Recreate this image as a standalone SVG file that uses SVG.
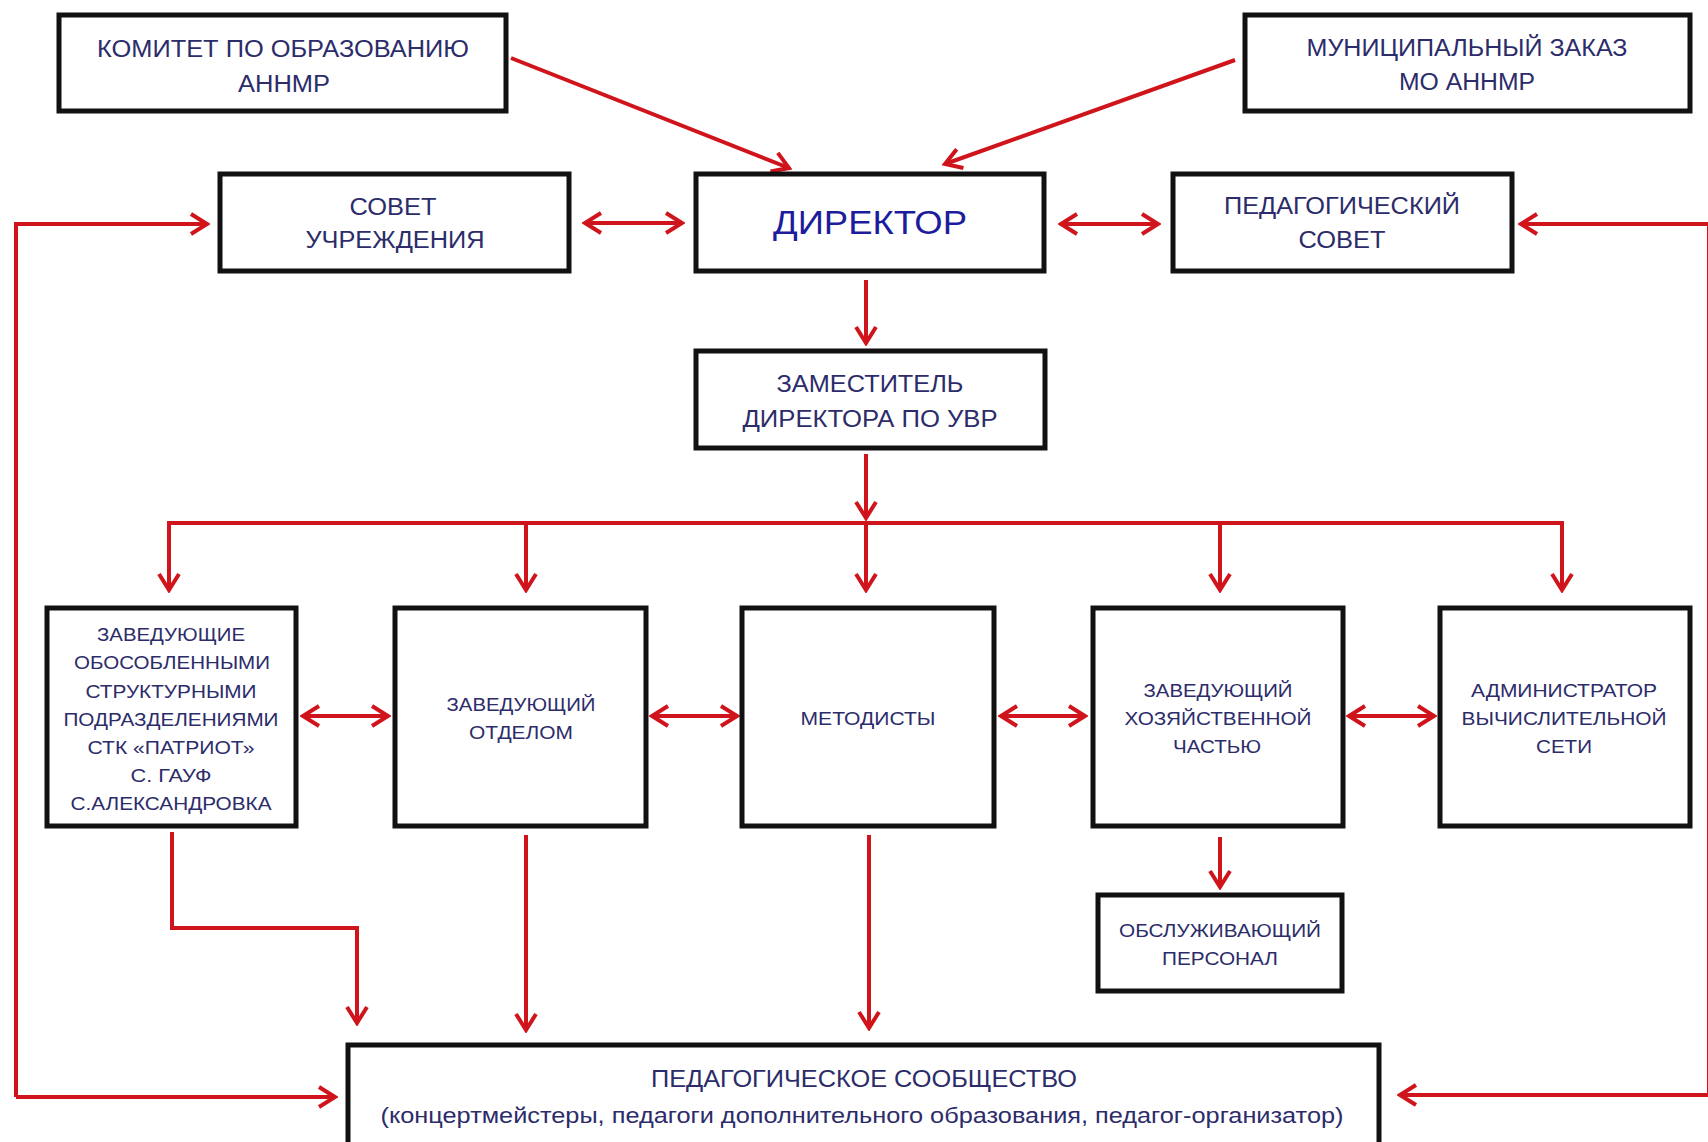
<svg xmlns="http://www.w3.org/2000/svg" width="1708" height="1142" viewBox="0 0 1708 1142">
<style>
.box{fill:#fff;stroke:#111;stroke-width:5}
.t{font-family:"Liberation Sans",Arial,sans-serif;fill:#2c2c6a;text-anchor:middle}
.t23{font-size:23px}
.t19{font-size:19px}
.dir{font-size:34px;fill:#1c1c9c}
.ln{fill:none;stroke:#d0141c;stroke-width:4;stroke-linejoin:miter}
</style>
<defs>
<marker id="ah" viewBox="0 0 22 24" refX="19" refY="12" markerWidth="22" markerHeight="24" markerUnits="userSpaceOnUse" orient="auto-start-reverse">
<path d="M3,2 L19,12 L3,22" fill="none" stroke="#d0141c" stroke-width="4"/>
</marker>
</defs>
<rect width="1708" height="1142" fill="#fff"/>

<g id="connectors">
<path class="ln" d="M511,58 L789,168" marker-end="url(#ah)"/>
<path class="ln" d="M1235,60 L945,164" marker-end="url(#ah)"/>
<path class="ln" d="M585,223 L682,223" marker-start="url(#ah)" marker-end="url(#ah)"/>
<path class="ln" d="M1061,224 L1158,224" marker-start="url(#ah)" marker-end="url(#ah)"/>
<path class="ln" d="M16,1097 L16,224 L207,224" marker-end="url(#ah)"/>
<path class="ln" d="M16,1097 L335,1097" marker-end="url(#ah)"/>
<path class="ln" d="M1709,224 L1709,1095"/>
<path class="ln" d="M1709,224 L1521,224" marker-end="url(#ah)"/>
<path class="ln" d="M1709,1095 L1400,1095" marker-end="url(#ah)"/>
<path class="ln" d="M866,280 L866,343" marker-end="url(#ah)"/>
<path class="ln" d="M866,454 L866,518" marker-end="url(#ah)"/>
<path class="ln" d="M169,590 L169,523 L1562,523 L1562,590" marker-end="url(#ah)"/>
<path class="ln" d="M169,523 L169,590" marker-end="url(#ah)"/>
<path class="ln" d="M526,523 L526,590" marker-end="url(#ah)"/>
<path class="ln" d="M866,523 L866,590" marker-end="url(#ah)"/>
<path class="ln" d="M1220,523 L1220,590" marker-end="url(#ah)"/>
<path class="ln" d="M303,716 L388,716" marker-start="url(#ah)" marker-end="url(#ah)"/>
<path class="ln" d="M652,716 L737,716" marker-start="url(#ah)" marker-end="url(#ah)"/>
<path class="ln" d="M1001,716 L1085,716" marker-start="url(#ah)" marker-end="url(#ah)"/>
<path class="ln" d="M1349,716 L1434,716" marker-start="url(#ah)" marker-end="url(#ah)"/>
<path class="ln" d="M172,832 L172,928 L357,928 L357,1023" marker-end="url(#ah)"/>
<path class="ln" d="M526,835 L526,1030" marker-end="url(#ah)"/>
<path class="ln" d="M869,835 L869,1028" marker-end="url(#ah)"/>
<path class="ln" d="M1220,837 L1220,887" marker-end="url(#ah)"/>
</g>

<g id="komitet">
<rect class="box" x="59" y="15" width="447" height="96"/>
<text class="t t23" x="283" y="57" textLength="372" lengthAdjust="spacingAndGlyphs">КОМИТЕТ ПО ОБРАЗОВАНИЮ</text>
<text class="t t23" x="284" y="92" textLength="92" lengthAdjust="spacingAndGlyphs">АННМР</text>
</g>

<g id="municipal">
<rect class="box" x="1245" y="15" width="445" height="96"/>
<text class="t t23" x="1467" y="56" textLength="321" lengthAdjust="spacingAndGlyphs">МУНИЦИПАЛЬНЫЙ ЗАКАЗ</text>
<text class="t t23" x="1467" y="90" textLength="136" lengthAdjust="spacingAndGlyphs">МО АННМР</text>
</g>

<g id="sovet-uchrezhdeniya">
<rect class="box" x="220" y="174" width="349" height="97"/>
<text class="t t23" x="393" y="215" textLength="87" lengthAdjust="spacingAndGlyphs">СОВЕТ</text>
<text class="t t23" x="395" y="248" textLength="179" lengthAdjust="spacingAndGlyphs">УЧРЕЖДЕНИЯ</text>
</g>

<g id="direktor">
<rect class="box" x="696" y="174" width="348" height="97"/>
<text class="t dir" x="870" y="234" textLength="194" lengthAdjust="spacingAndGlyphs">ДИРЕКТОР</text>
</g>

<g id="ped-sovet">
<rect class="box" x="1173" y="174" width="339" height="97"/>
<text class="t t23" x="1342" y="214" textLength="236" lengthAdjust="spacingAndGlyphs">ПЕДАГОГИЧЕСКИЙ</text>
<text class="t t23" x="1342" y="248" textLength="87" lengthAdjust="spacingAndGlyphs">СОВЕТ</text>
</g>

<g id="zamestitel">
<rect class="box" x="696" y="351" width="349" height="97"/>
<text class="t t23" x="870" y="392" textLength="187" lengthAdjust="spacingAndGlyphs">ЗАМЕСТИТЕЛЬ</text>
<text class="t t23" x="870" y="427" textLength="255" lengthAdjust="spacingAndGlyphs">ДИРЕКТОРА ПО УВР</text>
</g>

<g id="zav-obosobl">
<rect class="box" x="47" y="608" width="249" height="218"/>
<text class="t t19" x="171" y="641" textLength="148" lengthAdjust="spacingAndGlyphs">ЗАВЕДУЮЩИЕ</text>
<text class="t t19" x="172" y="669" textLength="196" lengthAdjust="spacingAndGlyphs">ОБОСОБЛЕННЫМИ</text>
<text class="t t19" x="171" y="698" textLength="171" lengthAdjust="spacingAndGlyphs">СТРУКТУРНЫМИ</text>
<text class="t t19" x="171" y="726" textLength="215" lengthAdjust="spacingAndGlyphs">ПОДРАЗДЕЛЕНИЯМИ</text>
<text class="t t19" x="171" y="754" textLength="167" lengthAdjust="spacingAndGlyphs">СТК «ПАТРИОТ»</text>
<text class="t t19" x="171" y="782" textLength="81" lengthAdjust="spacingAndGlyphs">С. ГАУФ</text>
<text class="t t19" x="171" y="810" textLength="201" lengthAdjust="spacingAndGlyphs">С.АЛЕКСАНДРОВКА</text>
</g>

<g id="zav-otdelom">
<rect class="box" x="395" y="608" width="251" height="218"/>
<text class="t t19" x="521" y="711" textLength="149" lengthAdjust="spacingAndGlyphs">ЗАВЕДУЮЩИЙ</text>
<text class="t t19" x="521" y="739" textLength="104" lengthAdjust="spacingAndGlyphs">ОТДЕЛОМ</text>
</g>

<g id="metodisty">
<rect class="box" x="742" y="608" width="252" height="218"/>
<text class="t t19" x="868" y="725" textLength="135" lengthAdjust="spacingAndGlyphs">МЕТОДИСТЫ</text>
</g>

<g id="zav-hoz">
<rect class="box" x="1093" y="608" width="250" height="218"/>
<text class="t t19" x="1218" y="697" textLength="149" lengthAdjust="spacingAndGlyphs">ЗАВЕДУЮЩИЙ</text>
<text class="t t19" x="1218" y="725" textLength="187" lengthAdjust="spacingAndGlyphs">ХОЗЯЙСТВЕННОЙ</text>
<text class="t t19" x="1217" y="753" textLength="88" lengthAdjust="spacingAndGlyphs">ЧАСТЬЮ</text>
</g>

<g id="admin">
<rect class="box" x="1440" y="608" width="250" height="218"/>
<text class="t t19" x="1564" y="697" textLength="186" lengthAdjust="spacingAndGlyphs">АДМИНИСТРАТОР</text>
<text class="t t19" x="1564" y="725" textLength="205" lengthAdjust="spacingAndGlyphs">ВЫЧИСЛИТЕЛЬНОЙ</text>
<text class="t t19" x="1564" y="753" textLength="56" lengthAdjust="spacingAndGlyphs">СЕТИ</text>
</g>

<g id="obsluzh">
<rect class="box" x="1098" y="895" width="244" height="96"/>
<text class="t t19" x="1220" y="937" textLength="202" lengthAdjust="spacingAndGlyphs">ОБСЛУЖИВАЮЩИЙ</text>
<text class="t t19" x="1220" y="965" textLength="116" lengthAdjust="spacingAndGlyphs">ПЕРСОНАЛ</text>
</g>

<g id="ped-soobshchestvo">
<rect class="box" x="348" y="1045" width="1031" height="130"/>
<text class="t" style="font-size:24px" x="864" y="1087" textLength="426" lengthAdjust="spacingAndGlyphs">ПЕДАГОГИЧЕСКОЕ СООБЩЕСТВО</text>
<text class="t" style="font-size:22px" x="862" y="1123" textLength="963" lengthAdjust="spacingAndGlyphs">(концертмейстеры, педагоги дополнительного образования, педагог-организатор)</text>
</g>
</svg>
